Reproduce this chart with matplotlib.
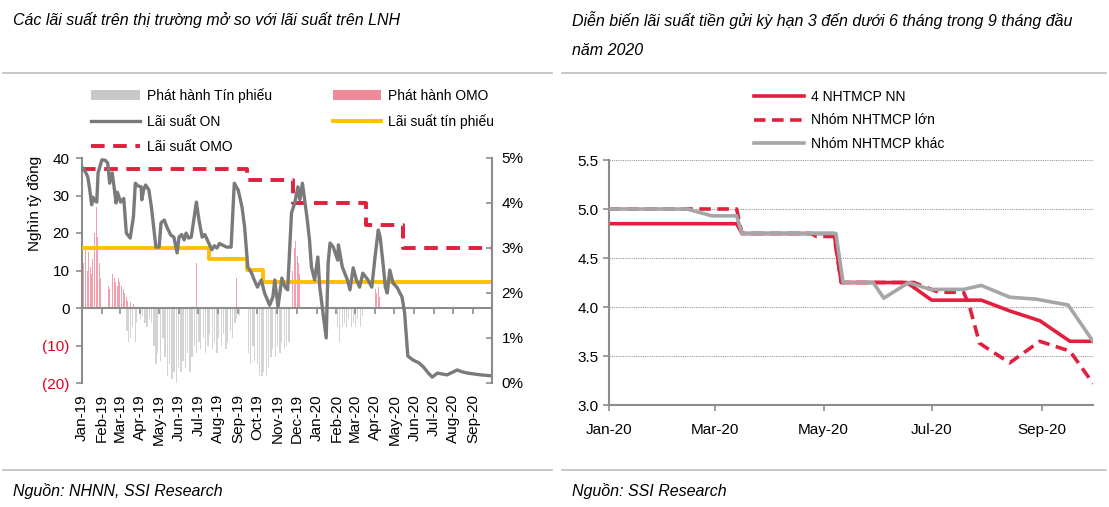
import matplotlib
matplotlib.use("Agg")
import matplotlib.pyplot as plt
import matplotlib.dates as mdates
import pandas as pd
from matplotlib import font_manager
from matplotlib.lines import Line2D
from matplotlib.patches import Patch

names = {f.name for f in font_manager.fontManager.ttflist}
FONT = 'Liberation Sans Narrow' if 'Liberation Sans Narrow' in names else 'Liberation Sans'
plt.rcParams['font.family'] = [FONT, 'DejaVu Sans']

# ---------------- Left chart data ----------------
on_dates = ["2019-01-02", "2019-01-06", "2019-01-10", "2019-01-13", "2019-01-16", "2019-01-18",
            "2019-01-21", "2019-01-24", "2019-01-26",
            "2019-02-01", "2019-02-06", "2019-02-10", "2019-02-13", "2019-02-17", "2019-02-20",
            "2019-02-23", "2019-02-25",
            "2019-03-02", "2019-03-07", "2019-03-11", "2019-03-17", "2019-03-22", "2019-03-25",
            "2019-03-29", "2019-04-03", "2019-04-04", "2019-04-07", "2019-04-10", "2019-04-15",
            "2019-04-19", "2019-04-26",
            "2019-05-01", "2019-05-04", "2019-05-09", "2019-05-13", "2019-05-16", "2019-05-19",
            "2019-05-24", "2019-05-29", "2019-06-01", "2019-06-05", "2019-06-09", "2019-06-12",
            "2019-06-16", "2019-06-20", "2019-06-28",
            "2019-07-02", "2019-07-07", "2019-07-11", "2019-07-15", "2019-07-22", "2019-07-26",
            "2019-07-30", "2019-08-03", "2019-08-07",
            "2019-08-14", "2019-08-21", "2019-08-26", "2019-09-01", "2019-09-07", "2019-09-11",
            "2019-09-16", "2019-09-22", "2019-09-26", "2019-10-01", "2019-10-07", "2019-10-12",
            "2019-10-20", "2019-10-25", "2019-10-28", "2019-11-02", "2019-11-08", "2019-11-13",
            "2019-11-17", "2019-11-23", "2019-11-28", "2019-12-03", "2019-12-06", "2019-12-10",
            "2019-12-17", "2019-12-21", "2019-12-24", "2019-12-29", "2020-01-03", "2020-01-06",
            "2020-01-11", "2020-01-16", "2020-01-19", "2020-01-22", "2020-01-27", "2020-02-03",
            "2020-02-04", "2020-02-10", "2020-02-18", "2020-02-22", "2020-02-27", "2020-03-03",
            "2020-03-08", "2020-03-13", "2020-03-21", "2020-03-27", "2020-04-01", "2020-04-06",
            "2020-04-09", "2020-04-14", "2020-04-17", "2020-04-20", "2020-04-24", "2020-04-29",
            "2020-05-05", "2020-05-13", "2020-05-17", "2020-05-22", "2020-05-30", "2020-06-08",
            "2020-06-15", "2020-06-23", "2020-06-29", "2020-07-07", "2020-07-22", "2020-08-07",
            "2020-08-14", "2020-08-23", "2020-09-13", "2020-09-29"]
on_rate = [4.78, 4.70, 4.58, 4.30, 3.96, 4.13,
           4.05, 4.02, 4.67,
           4.96, 4.95, 4.89, 4.44, 4.67, 4.35,
           4.00, 4.24,
           4.02, 4.10, 3.33, 3.22, 3.69, 4.44,
           4.38, 4.36, 4.07, 4.30, 4.40, 4.29,
           3.91, 3.02,
           3.02, 3.56, 3.62, 3.47, 3.38, 3.29,
           3.24, 2.89, 3.24, 3.30, 3.18, 3.33,
           3.22, 3.24, 4.02,
           3.62, 3.24, 3.30, 3.18, 2.96, 3.05,
           3.00, 3.10, 3.07,
           3.02, 3.02, 4.44, 4.29, 3.91, 3.47,
           2.58, 2.44, 2.29, 2.13, 2.29, 2.00,
           1.73, 1.91, 2.29, 1.69, 2.33, 2.13,
           2.07, 3.78, 4.00, 4.36, 4.07, 4.44,
           3.69, 3.18, 2.58, 2.29, 2.80, 2.13,
           1.56, 1.00, 2.67, 3.11, 3.02, 2.73,
           3.07, 2.58, 2.29, 2.07, 2.56, 2.29,
           2.13, 2.44, 2.29, 2.13, 2.80, 3.40,
           3.24, 2.58, 2.13, 2.00, 2.51, 2.22,
           2.13, 1.91, 1.56, 0.60, 0.51, 0.45,
           0.36, 0.22, 0.13, 0.22, 0.18, 0.29,
           0.25, 0.22, 0.18, 0.16]

omo_rate_dates = ["2019-01-01", "2019-09-14", "2019-11-25", "2020-03-18", "2020-05-15", "2020-09-30"]
omo_rate = [4.75, 4.5, 4.0, 3.5, 3.0, 3.0]

tp_rate_dates = ["2019-01-01", "2019-07-17", "2019-09-15", "2019-10-09", "2020-09-30"]
tp_rate = [3.0, 2.75, 2.5, 2.25, 2.25]

omo_issue_dates = ["2019-01-02", "2019-01-04", "2019-01-07", "2019-01-09", "2019-01-11", "2019-01-14",
                   "2019-01-16", "2019-01-18", "2019-01-21", "2019-01-23", "2019-01-24", "2019-01-25",
                   "2019-01-28", "2019-01-30", "2019-02-11", "2019-02-13", "2019-02-18", "2019-02-20",
                   "2019-02-22", "2019-02-25", "2019-02-27", "2019-03-01", "2019-03-04", "2019-03-06",
                   "2019-03-08", "2019-03-11", "2019-03-13", "2019-03-18", "2019-03-22",
                   "2019-06-28", "2019-08-30",
                   "2019-11-24", "2019-11-27", "2019-11-29", "2019-12-02", "2019-12-04", "2019-12-06",
                   "2020-04-01", "2020-04-03", "2020-04-06", "2020-04-08"]
omo_issue = [14, 12, 16, 10, 15, 11,
             9, 13, 20, 22, 27, 19,
             12, 8, 6, 5, 9, 8,
             7, 6, 8, 7, 6, 5,
             4, 3, 2, 1.5, 1,
             12, 8,
             10, 16, 18, 14, 12, 9,
             5, 4, 5.5, 3]

tp_issue_dates = ["2019-03-12", "2019-03-14", "2019-03-18", "2019-03-20", "2019-03-25", "2019-03-27",
                  "2019-04-02", "2019-04-05", "2019-04-09", "2019-04-12", "2019-04-16", "2019-04-19",
                  "2019-04-23", "2019-04-26", "2019-04-29", "2019-05-03", "2019-05-07", "2019-05-10",
                  "2019-05-14", "2019-05-17", "2019-05-21", "2019-05-24", "2019-05-28", "2019-05-31",
                  "2019-06-04", "2019-06-07", "2019-06-11", "2019-06-14", "2019-06-18", "2019-06-21",
                  "2019-06-25", "2019-06-28", "2019-07-02", "2019-07-05", "2019-07-09", "2019-07-12",
                  "2019-07-16", "2019-07-19", "2019-07-23", "2019-07-26", "2019-07-30", "2019-08-02",
                  "2019-08-06", "2019-08-09", "2019-08-13", "2019-08-16", "2019-08-20", "2019-08-23",
                  "2019-08-27", "2019-08-30", "2019-09-03",
                  "2019-09-17", "2019-09-20", "2019-09-24", "2019-09-27", "2019-10-01", "2019-10-04",
                  "2019-10-08", "2019-10-11", "2019-10-15", "2019-10-18", "2019-10-22", "2019-10-25",
                  "2019-10-29", "2019-11-01", "2019-11-05", "2019-11-08", "2019-11-12", "2019-11-15",
                  "2019-11-19",
                  "2020-02-03", "2020-02-06", "2020-02-10", "2020-02-13", "2020-02-17", "2020-02-20",
                  "2020-02-24", "2020-02-27", "2020-03-02", "2020-03-05", "2020-03-09", "2020-03-12"]
tp_issue = [-6, -9, -8, -5, -9, -4,
            -3, -2, -4, -5, -3, -4,
            -10, -15, -12, -14, -8, -13,
            -18, -15, -19, -17, -20, -16,
            -17, -14, -16, -12, -17, -13,
            -10, -12, -9, -11, -8, -12,
            -10, -7, -11, -9, -12, -8,
            -10, -7, -11, -9, -6, -8,
            -4, -3, -2,
            -12, -15, -10, -14, -15, -18,
            -18, -17, -18, -16, -13, -11,
            -13, -10, -12, -9, -11, -10,
            -9,
            -5, -9, -5, -4, -5, -3,
            -5, -4, -5, -3, -5, -2]

left_ticks = [-20, -10, 0, 10, 20, 30, 40]
left_labels = ["(20)", "(10)", "0", "10", "20", "30", "40"]
right_ticks = [0, 1, 2, 3, 4, 5]
right_labels = ["0%", "1%", "2%", "3%", "4%", "5%"]

# ---------------- Right chart data ----------------
nn_dates = ["2020-01-01", "2020-03-13", "2020-03-16", "2020-05-07", "2020-05-11", "2020-06-17",
            "2020-07-01", "2020-07-29", "2020-08-14", "2020-08-31", "2020-09-17", "2020-09-30"]
nn_rate = [4.85, 4.85, 4.75, 4.75, 4.25, 4.25, 4.07, 4.07, 3.96, 3.86, 3.65, 3.65]

lon_dates = ["2020-01-01", "2020-03-13", "2020-03-16", "2020-04-24", "2020-04-27", "2020-05-07",
             "2020-05-11", "2020-06-21", "2020-07-05", "2020-07-19", "2020-07-22", "2020-07-28",
             "2020-08-14", "2020-08-31", "2020-09-17", "2020-09-30"]
lon_rate = [5.0, 5.0, 4.75, 4.75, 4.72, 4.72, 4.25, 4.25, 4.15, 4.15, 4.03, 3.63,
            3.43, 3.65, 3.55, 3.22]

khac_dates = ["2020-01-01", "2020-02-14", "2020-02-28", "2020-03-13", "2020-03-16", "2020-05-08",
              "2020-05-12", "2020-05-29", "2020-06-04", "2020-06-18", "2020-06-30", "2020-07-19",
              "2020-07-29", "2020-08-14", "2020-08-29", "2020-09-16", "2020-09-30"]
khac_rate = [5.0, 5.0, 4.93, 4.93, 4.75, 4.75, 4.25, 4.25, 4.09, 4.25, 4.18, 4.18,
             4.22, 4.10, 4.08, 4.02, 3.65]

right_yticks = [3.0, 3.5, 4.0, 4.5, 5.0, 5.5]

# ---------------- Styling ----------------
W, H = 1109, 507
RED = '#e0203e'
GREY_LINE = '#7a7a7a'
YELLOW = '#ffc000'
PINK = '#f2a0ad'
LGREY = '#d4d4d4'
SPINE = '#8c8c8c'

fig = plt.figure(figsize=(W / 100, H / 100), dpi=100)

def fx(px):
    return px / W

def fy(py):
    return 1 - py / H

# ---------------- Left chart ----------------
axL = fig.add_axes([fx(82), fy(383), fx(492) - fx(82), fy(158) - fy(383)])
d_omo = pd.to_datetime(omo_issue_dates)
d_tp = pd.to_datetime(tp_issue_dates)
axL.bar(d_tp, tp_issue, width=1.9, color=LGREY, linewidth=0)
axL.bar(d_omo, omo_issue, width=1.6, color=PINK, linewidth=0)
axL.set_ylim(-20, 40)
axL.set_xlim(pd.Timestamp("2019-01-01"), pd.Timestamp("2020-09-30"))
axL.set_yticks(left_ticks)
axL.set_yticklabels(left_labels)
for t, v in zip(axL.get_yticklabels(), left_ticks):
    t.set_color('#e0001b' if v < 0 else 'black')
axL.spines['top'].set_visible(False)
axL.spines['right'].set_visible(False)
axL.spines['left'].set_color(SPINE)
axL.spines['left'].set_linewidth(1.5)
axL.spines['bottom'].set_position(('data', 0))
axL.spines['bottom'].set_color(SPINE)
axL.spines['bottom'].set_linewidth(1.5)
axL.tick_params(axis='y', direction='out', length=4, color=SPINE, width=1.2, labelsize=11, pad=5)
axL.xaxis.set_major_locator(mdates.MonthLocator())
axL.xaxis.set_major_formatter(mdates.DateFormatter('%b-%y'))
axL.tick_params(axis='x', direction='out', length=4, color=SPINE, width=1.2, labelsize=11,
                labelrotation=90, pad=58)
axL.set_ylabel("Nghìn tỷ đồng", fontsize=11)
axL.yaxis.set_label_coords(-0.098, 0.80)
axL.set_facecolor('none')

axR = axL.twinx()
axR.set_ylim(0, 5)
axR.set_yticks(right_ticks)
axR.set_yticklabels(right_labels)
for s in ['top', 'left', 'bottom']:
    axR.spines[s].set_visible(False)
axR.spines['right'].set_color(SPINE)
axR.spines['right'].set_linewidth(1.5)
axR.tick_params(axis='y', direction='in', length=4, color=SPINE, width=1.2, labelsize=11, pad=7)

axR.plot(pd.to_datetime(tp_rate_dates), tp_rate, color=YELLOW, lw=2.8, drawstyle='steps-post',
         solid_capstyle='butt')
axR.plot(pd.to_datetime(omo_rate_dates), omo_rate, color=RED, lw=2.8, drawstyle='steps-post',
         dashes=(3.5, 2.2))
axR.plot(pd.to_datetime(on_dates), on_rate, color=GREY_LINE, lw=2.4)

handles = [Patch(facecolor='#c8c8c8', edgecolor='none'),
           Line2D([], [], color=GREY_LINE, lw=2.4),
           Line2D([], [], color=RED, lw=2.8, dashes=(3.5, 2.2)),
           Patch(facecolor='#ee8a9a', edgecolor='none'),
           Line2D([], [], color=YELLOW, lw=2.8)]
labels = ["Phát hành Tín phiếu", "Lãi suất ON", "Lãi suất OMO", "Phát hành OMO", "Lãi suất tín phiếu"]
fig.legend(handles, labels, ncol=2, loc='upper left', bbox_to_anchor=(fx(91), fy(88)),
           frameon=False, fontsize=10, handlelength=3.5, handleheight=0.8, handletextpad=0.5,
           columnspacing=4.4, labelspacing=0.85, borderpad=0, borderaxespad=0)

# ---------------- Right chart ----------------
ax2 = fig.add_axes([fx(609), fy(405), fx(1093) - fx(609), fy(160) - fy(405)])
ax2.plot(pd.to_datetime(khac_dates), khac_rate, color='#a6a6a6', lw=2.6, label="Nhóm NHTMCP khác", zorder=3)
ax2.plot(pd.to_datetime(nn_dates), nn_rate, color=RED, lw=2.6, label="4 NHTMCP NN", zorder=2)
ax2.plot(pd.to_datetime(lon_dates), lon_rate, color=RED, lw=2.6, dashes=(3.2, 1.8), label="Nhóm NHTMCP lớn", zorder=2)
ax2.set_ylim(3.0, 5.5)
ax2.set_xlim(pd.Timestamp("2020-01-01"), pd.Timestamp("2020-09-30"))
ax2.set_yticks(right_yticks)
ax2.yaxis.set_major_formatter(matplotlib.ticker.FormatStrFormatter('%.1f'))
ax2.xaxis.set_major_locator(mdates.MonthLocator(bymonth=[1, 3, 5, 7, 9]))
ax2.xaxis.set_major_formatter(mdates.DateFormatter('%b-%y'))
for y in right_yticks[1:]:
    ax2.axhline(y, color='#9a9a9a', lw=0.8, ls=(0, (1, 1)), zorder=0)
for s in ['top', 'right']:
    ax2.spines[s].set_visible(False)
for s in ['left', 'bottom']:
    ax2.spines[s].set_color(SPINE)
    ax2.spines[s].set_linewidth(1.5)
ax2.tick_params(axis='both', direction='out', length=4, color=SPINE, width=1.2, labelsize=11)
ax2.tick_params(axis='x', pad=9)

h2, l2 = ax2.get_legend_handles_labels()
order = [1, 2, 0]
fig.legend([h2[i] for i in order], [l2[i] for i in order], loc='upper left',
           bbox_to_anchor=(fx(754), fy(90)), frameon=False, fontsize=10, handlelength=3.6,
           handletextpad=0.5, labelspacing=0.68, borderpad=0, borderaxespad=0)

# ---------------- Titles, separators, sources ----------------
fig.text(fx(13), fy(20), "Các lãi suất trên thị trường mở so với lãi suất trên LNH",
         fontsize=11.5, style='italic', va='center', ha='left')
fig.text(fx(572), fy(20), "Diễn biến lãi suất tiền gửi kỳ hạn 3 đến dưới 6 tháng trong 9 tháng đầu",
         fontsize=11.5, style='italic', va='center', ha='left')
fig.text(fx(572), fy(50), "năm 2020", fontsize=11.5, style='italic', va='center', ha='left')
fig.text(fx(13), fy(491), "Nguồn: NHNN, SSI Research", fontsize=11.5, style='italic', va='center', ha='left')
fig.text(fx(572), fy(491), "Nguồn: SSI Research", fontsize=11.5, style='italic', va='center', ha='left')

for yy in (73, 470):
    fig.add_artist(Line2D([fx(3), fx(552)], [fy(yy), fy(yy)], color='#bdbdbd', lw=1.2))
    fig.add_artist(Line2D([fx(562), fx(1106)], [fy(yy), fy(yy)], color='#bdbdbd', lw=1.2))

fig.savefig("out.png", dpi=100)
